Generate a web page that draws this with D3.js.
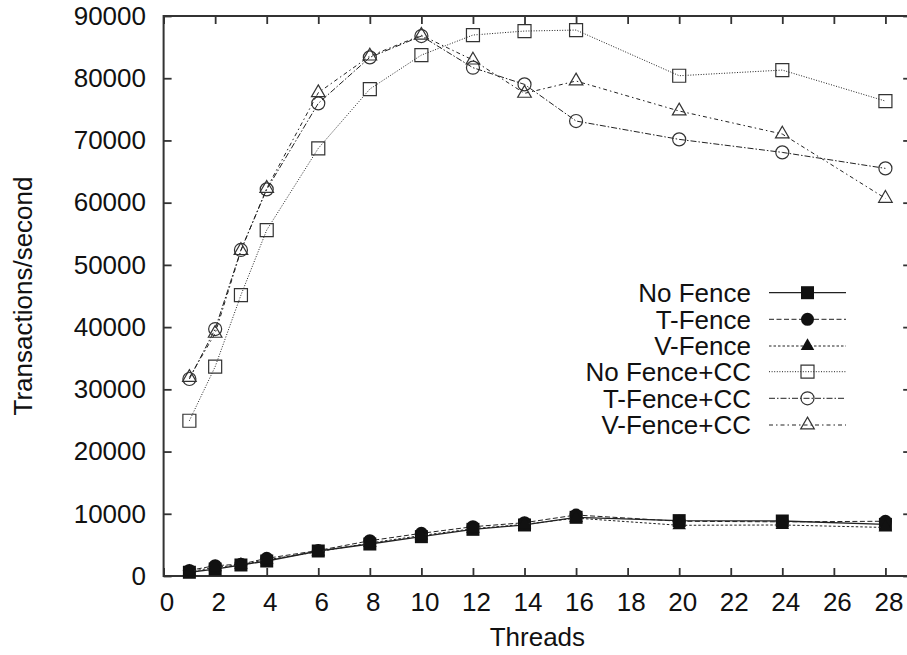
<!DOCTYPE html>
<html>
<head>
<meta charset="utf-8">
<script src="https://cdn.jsdelivr.net/npm/d3@7"></script>
<style>
  body { margin: 0; background: #fff; }
  svg { display: block; font-family: "Liberation Sans", Arial, Helvetica, sans-serif; }
</style>
</head>
<body>
<div id="chart-holder"></div>
<script>
// thread counts on the x axis
const threads = [1, 2, 3, 4, 6, 8, 10, 12, 14, 16, 20, 24, 28];

// transactions/second
const noFence = [600, 1120, 1770, 2410, 4020, 5140, 6320, 7500, 8200, 9430, 8900, 8840, 8300];
const tFence = [900, 1660, 1900, 2840, 4100, 5670, 6860, 7920, 8570, 9800, 8800, 8700, 8800];
const vFence = [700, 1400, 1800, 2600, 3900, 5300, 6500, 7600, 8300, 9300, 8150, 8200, 7800];
const noFenceCC = [24950, 33640, 45150, 55600, 68730, 78260, 83720, 86940, 87580, 87740, 80400, 81310, 76330];
const tFenceCC = [31660, 39690, 52400, 62140, 75960, 83350, 86780, 81690, 79010, 73120, 70170, 68080, 65510];
const vFenceCC = [31900, 39000, 52300, 62300, 77670, 83560, 86900, 82920, 77570, 79550, 74730, 71030, 60690];

const seriesNames = ["No Fence", "T-Fence", "V-Fence", "No Fence+CC", "T-Fence+CC", "V-Fence+CC"];
const seriesValues = [noFence, tFence, vFence, noFenceCC, tFenceCC, vFenceCC];

const xTicks = [0, 2, 4, 6, 8, 10, 12, 14, 16, 18, 20, 22, 24, 26, 28];
const yTicks = [0, 10000, 20000, 30000, 40000, 50000, 60000, 70000, 80000, 90000];

// Chart dimensions
const width = 907;
const height = 655;
const marginTop = 16;
const marginLeft = 163.6;
const plotBottom = 576;
const plotRight = 911.2;

// line style + marker for every series (same order as seriesNames)
const styles = [
  { dash: null, width: 1.3, symbol: d3.symbolSquare, size: 169, fill: "#111" },
  { dash: "5,2.5", width: 1, symbol: d3.symbolCircle, size: 133, fill: "#111" },
  { dash: "2.5,2", width: 1, symbol: d3.symbolTriangle, size: 80, fill: "#111" },
  { dash: "1,1.6", width: 1, symbol: d3.symbolSquare, size: 169, fill: "none" },
  { dash: "6,2,1.5,2", width: 1, symbol: d3.symbolCircle, size: 133, fill: "none" },
  { dash: "4,3,1.5,3", width: 1, symbol: d3.symbolTriangle, size: 80, fill: "none" }
];

const x = d3.scaleLinear().domain([0, 29]).range([marginLeft, plotRight]);
const y = d3.scaleLinear().domain([0, 90000]).range([plotBottom, marginTop]);

const svg = d3
  .select("#chart-holder")
  .append("svg")
  .attr("width", width)
  .attr("height", height);

const fontSize = 26;
const tickLen = 8;

// x axis (bottom) with labels
const xAxis = svg
  .append("g")
  .attr("transform", `translate(0,${plotBottom})`)
  .call(
    d3.axisBottom(x).tickValues(xTicks).tickSizeInner(-tickLen).tickSizeOuter(0).tickPadding(17)
  );
xAxis.selectAll("text").attr("dx", 3).style("font-size", fontSize + "px");

// mirrored ticks on top
svg
  .append("g")
  .attr("transform", `translate(0,${marginTop})`)
  .call(d3.axisTop(x).tickValues(xTicks).tickSizeInner(-tickLen).tickSizeOuter(0).tickFormat(""));

// y axis (left) with labels
const yAxis = svg
  .append("g")
  .attr("transform", `translate(${marginLeft},0)`)
  .call(
    d3
      .axisLeft(y)
      .tickValues(yTicks)
      .tickFormat(d3.format("d"))
      .tickSizeInner(-tickLen)
      .tickSizeOuter(0)
      .tickPadding(17.6)
  );
yAxis.selectAll("text").style("font-size", fontSize + "px");

// mirrored ticks on the right
svg
  .append("g")
  .attr("transform", `translate(${plotRight},0)`)
  .call(d3.axisRight(y).tickValues(yTicks).tickSizeInner(-tickLen).tickSizeOuter(0).tickFormat(""));

svg.selectAll(".domain").remove();
svg.selectAll(".tick line").attr("stroke", "#333").attr("stroke-width", 1.8);
svg.selectAll(".tick text").attr("fill", "#111").attr("font-family", null);

// frame
svg
  .append("rect")
  .attr("x", marginLeft)
  .attr("y", marginTop)
  .attr("width", plotRight - marginLeft)
  .attr("height", plotBottom - marginTop)
  .attr("fill", "none")
  .attr("stroke", "#333")
  .attr("stroke-width", 2);

// axis titles
svg
  .append("text")
  .attr("x", (marginLeft + plotRight) / 2)
  .attr("y", 646)
  .attr("text-anchor", "middle")
  .style("font-size", fontSize + "px")
  .attr("fill", "#111")
  .text("Threads");

svg
  .append("text")
  .attr("transform", "rotate(-90)")
  .attr("x", -(marginTop + plotBottom) / 2)
  .attr("y", 32)
  .attr("text-anchor", "middle")
  .style("font-size", fontSize + "px")
  .attr("fill", "#111")
  .text("Transactions/second");

const line = d3
  .line()
  .x((d, i) => x(threads[i]))
  .y((d) => y(d));

// series: line then markers
seriesValues.forEach((values, s) => {
  const st = styles[s];
  svg
    .append("path")
    .datum(values)
    .attr("d", line)
    .attr("fill", "none")
    .attr("stroke", "#222")
    .attr("stroke-width", st.width)
    .attr("stroke-dasharray", st.dash);

  svg
    .append("g")
    .selectAll("path")
    .data(values)
    .enter()
    .append("path")
    .attr("d", d3.symbol().type(st.symbol).size(st.size))
    .attr("transform", (d, i) => `translate(${x(threads[i])},${y(d)})`)
    .attr("fill", st.fill)
    .attr("stroke", st.fill === "none" ? "#333" : "none")
    .attr("stroke-width", 1.2);
});

// legend
const legendTextX = 751;
const legendLineX0 = 769;
const legendLineX1 = 846;
const legendRowY = [292.7, 319.3, 346, 371.7, 398.3, 425];

seriesNames.forEach((name, s) => {
  const st = styles[s];
  const ly = legendRowY[s];
  svg
    .append("text")
    .attr("x", legendTextX)
    .attr("y", ly)
    .attr("dy", "0.36em")
    .attr("text-anchor", "end")
    .style("font-size", fontSize + "px")
    .attr("fill", "#111")
    .text(name);
  svg
    .append("line")
    .attr("x1", legendLineX0)
    .attr("x2", legendLineX1)
    .attr("y1", ly)
    .attr("y2", ly)
    .attr("stroke", "#222")
    .attr("stroke-width", st.width)
    .attr("stroke-dasharray", st.dash);
  svg
    .append("path")
    .attr("d", d3.symbol().type(st.symbol).size(st.size))
    .attr("transform", `translate(${(legendLineX0 + legendLineX1) / 2},${ly})`)
    .attr("fill", st.fill)
    .attr("stroke", st.fill === "none" ? "#333" : "none")
    .attr("stroke-width", 1.2);
});
</script>
</body>
</html>
